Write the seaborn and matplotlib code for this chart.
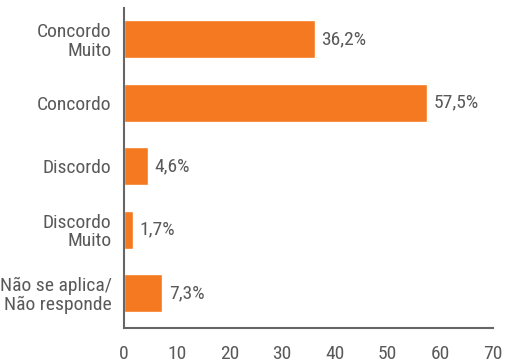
import matplotlib
matplotlib.use("Agg")
import matplotlib.pyplot as plt
import seaborn as sns
import pandas as pd

categorias = ["Concordo\nMuito", "Concordo", "Discordo", "Discordo\nMuito", "Não se aplica/\nNão responde"]
valores = [36.2, 57.5, 4.6, 1.7, 7.3]
rotulos = ["36,2%", "57,5%", "4,6%", "1,7%", "7,3%"]
xticks = [0, 10, 20, 30, 40, 50, 60, 70]

sns.set_style("white")
plt.rcParams["font.family"] = ["Roboto Condensed", "DejaVu Sans"]
cinza = "#595959"

df = pd.DataFrame({"cat": categorias, "val": valores})

fig = plt.figure(figsize=(5.07, 3.62), dpi=100)
ax = fig.add_axes([0.2446, 0.094, 0.7278, 0.884])
sns.barplot(data=df, x="val", y="cat", color="#F47920", saturation=1, width=0.6, ax=ax)

for i, (v, r) in enumerate(zip(valores, rotulos)):
    ax.text(v + 1.2, i, r, va="center", ha="left", fontsize=14, color=cinza)

ax.set_xlim(0, 70)
ax.set_ylim(4.55, -0.49)
ax.set_xticks(xticks)
ax.set_xticklabels([str(t) for t in xticks])
ax.set_xlabel("")
ax.set_ylabel("")
ax.tick_params(axis="both", length=0, labelsize=14, colors=cinza)
ax.tick_params(axis="x", pad=12.5)
ax.tick_params(axis="y", pad=9)
for lbl in ax.get_yticklabels():
    lbl.set_multialignment("right")
    lbl.set_linespacing(1.05)
ax.spines["top"].set_visible(False)
ax.spines["right"].set_visible(False)
for s in ("left", "bottom"):
    ax.spines[s].set_color("#666666")
    ax.spines[s].set_linewidth(1.5)

fig.savefig("out.png", dpi=100)
